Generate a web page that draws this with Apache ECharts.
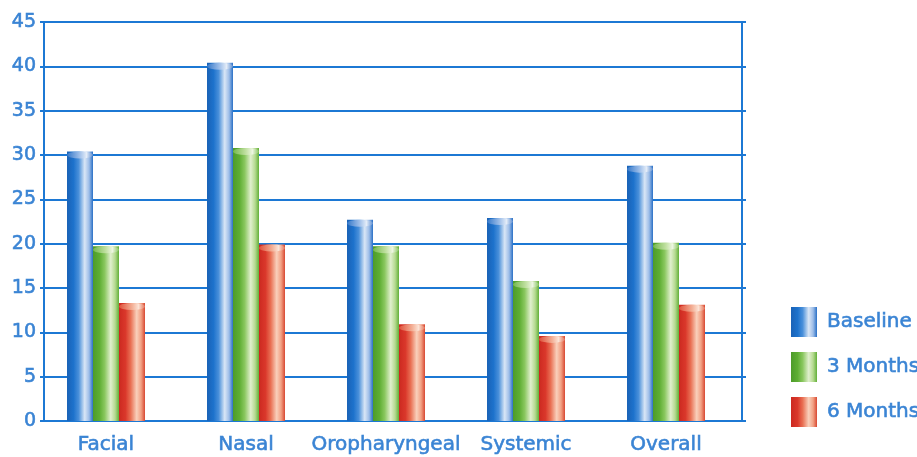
<!DOCTYPE html>
<html>
<head>
<meta charset="utf-8">
<script src="https://cdn.jsdelivr.net/npm/echarts@6/dist/echarts.min.js"></script>
<style>html,body{margin:0;padding:0;background:#fff;}#c{width:917px;height:457px;}</style>
</head>
<body>
<div id="c"></div>
<script>
const categories = ['Facial', 'Nasal', 'Oropharyngeal', 'Systemic', 'Overall'];
const seriesNames = ['Baseline', '3 Months', '6 Months'];
const baseline = [30.4, 40.4, 22.7, 22.9, 28.8];
const months3 = [19.7, 30.8, 19.7, 15.8, 20.1];
const months6 = [13.3, 19.9, 10.9, 9.6, 13.1];
const yTicks = [0, 5, 10, 15, 20, 25, 30, 35, 40, 45];

const axisBlue = '#1c78d4';
const textBlue = '#3a84d4';

function grad(stops) {
  return { type: 'linear', x: 0, y: 0, x2: 1, y2: 0,
    colorStops: stops.map(s => ({ offset: s[0], color: s[1] })) };
}
const bodyGrad = [
  grad([[0, '#1a62b6'], [0.25, '#1d72cc'], [0.45, '#4a90da'], [0.68, '#d9e6f6'], [0.85, '#9dbde8'], [1, '#2a70c6']]),
  grad([[0, '#4d9b2a'], [0.25, '#5eae33'], [0.45, '#8ac75f'], [0.68, '#e0efcd'], [0.85, '#b5da90'], [1, '#62af38']]),
  grad([[0, '#cc2920'], [0.25, '#da382b'], [0.45, '#e97053'], [0.68, '#f9d0bb'], [0.85, '#f2a184'], [1, '#d84832']])
];
const capGrad = [
  grad([[0, '#3578c9'], [0.5, '#a2c1ea'], [0.75, '#e3ecf8'], [1, '#5f8fd2']]),
  grad([[0, '#74b84a'], [0.5, '#c2e1a3'], [0.75, '#edf6e1'], [1, '#86c45e']]),
  grad([[0, '#df4f39'], [0.5, '#f3ae94'], [0.75, '#fce3d5'], [1, '#e57358']])
];
const datasets = [baseline, months3, months6];

const series = [];
datasets.forEach((d, i) => {
  series.push({
    name: seriesNames[i], type: 'bar', xAxisIndex: 0, yAxisIndex: 0,
    barWidth: 26, barGap: '0%', data: d, z: 3,
    itemStyle: { color: bodyGrad[i] }
  });
});
datasets.forEach((d, i) => {
  series.push({
    name: seriesNames[i] + ' cap', type: 'pictorialBar', xAxisIndex: 0, yAxisIndex: 0,
    barWidth: 26, barGap: '0%', data: d, z: 4,
    symbol: 'circle', symbolSize: [26, 7], symbolPosition: 'end', symbolOffset: [0, 0],
    itemStyle: { color: capGrad[i] }, silent: true
  });
});

const txt = { color: textBlue, fontFamily: 'DejaVu Sans', textBorderColor: textBlue, textBorderWidth: 0.6 };

const chart = echarts.init(document.getElementById('c'));
chart.setOption({
  animation: false,
  backgroundColor: '#ffffff',
  grid: [
    { left: 36, right: 181, top: 22, bottom: 36 },
    { left: 44, right: 175, top: 22, bottom: 36 }
  ],
  legend: {
    data: seriesNames.map(n => ({ name: n, icon: 'rect' })),
    orient: 'vertical', left: 786, top: 302,
    itemWidth: 26, itemHeight: 30, itemGap: 15,
    textStyle: Object.assign({ fontSize: 20, padding: [0, 0, 0, 5] }, txt)
  },
  xAxis: [
    { type: 'category', gridIndex: 0, data: categories,
      axisLine: { show: false }, axisTick: { show: false }, splitLine: { show: false },
      axisLabel: Object.assign({ fontSize: 20, margin: 14, interval: 0 }, txt) },
    { type: 'value', gridIndex: 1, min: 0, max: 1, show: false }
  ],
  yAxis: [
    { type: 'value', gridIndex: 0, min: 0, max: 45, interval: 5, show: false },
    { type: 'value', gridIndex: 1, min: yTicks[0], max: yTicks[yTicks.length - 1], interval: 5,
      axisLine: { show: true, lineStyle: { color: axisBlue, width: 2 } },
      axisTick: { show: true, length: 4, lineStyle: { color: axisBlue, width: 2 } },
      splitLine: { show: true, lineStyle: { color: axisBlue, width: 2 } },
      axisLabel: Object.assign({ fontSize: 19, margin: 8 }, txt) },
    { type: 'value', gridIndex: 1, position: 'right', min: 0, max: 45, interval: 5,
      axisLine: { show: true, lineStyle: { color: axisBlue, width: 2 } },
      axisTick: { show: true, length: 4, lineStyle: { color: axisBlue, width: 2 } },
      splitLine: { show: false }, axisLabel: { show: false } }
  ],
  series: series
});
</script>
</body>
</html>
